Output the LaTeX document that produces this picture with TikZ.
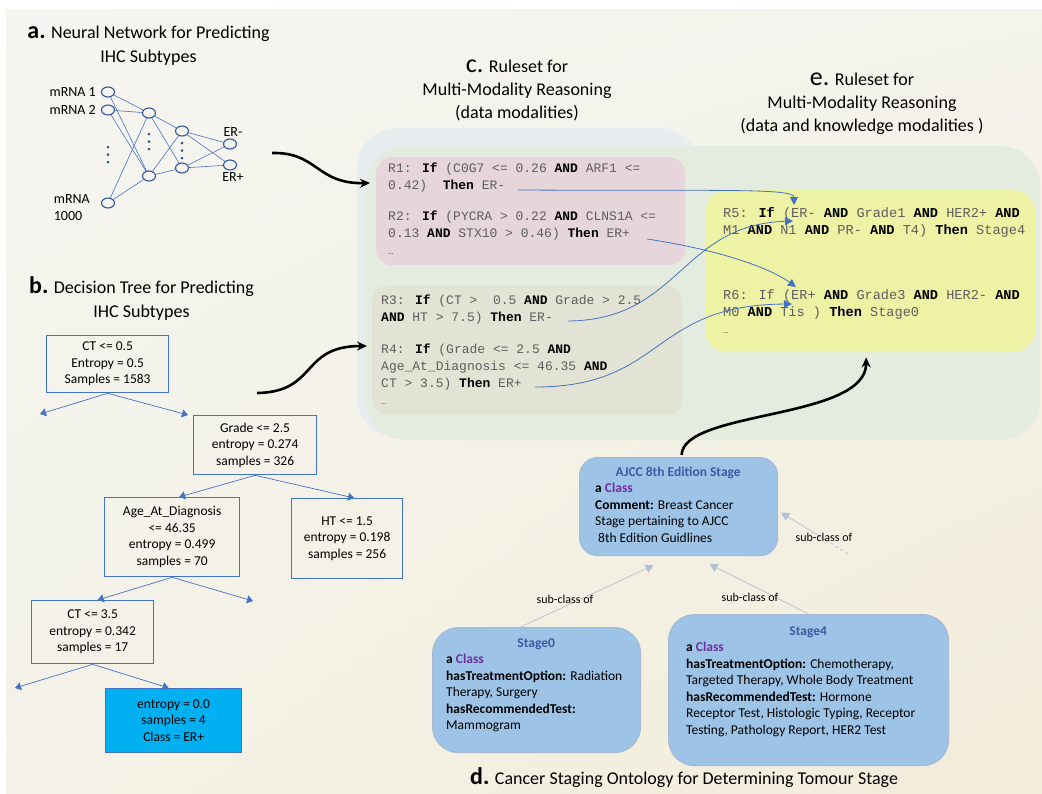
\documentclass[tikz,border=0pt]{standalone}
\usepackage{fontspec}
\setmainfont{Carlito}
\newfontfamily\rulefont{Liberation Mono}
\usetikzlibrary{arrows.meta,shapes.geometric,positioning,shadings}

\definecolor{bgA}{HTML}{F5F5F1}
\definecolor{bgB}{HTML}{F2ECD9}
\definecolor{bgC}{HTML}{F4F3EC}
\definecolor{bgD}{HTML}{F4F2E7}
\definecolor{panelc}{HTML}{E7ECEF}
\definecolor{panele}{HTML}{E4ECE0}
\definecolor{rulepink}{HTML}{E6D6DC}
\definecolor{ruleolive}{HTML}{E2E3D4}
\definecolor{ruleyellow}{HTML}{EDF2A4}
\definecolor{rulegray}{HTML}{5E5E5E}
\definecolor{linkblue}{HTML}{4472C4}
\definecolor{nodeblue}{HTML}{2F5597}
\definecolor{leafblue}{HTML}{00B0F0}
\definecolor{ontofill}{HTML}{9DC3E6}
\definecolor{ontoedge}{HTML}{A8BAD3}
\definecolor{ontotitle}{HTML}{3A5BA3}
\definecolor{classpurple}{HTML}{7030A0}
\definecolor{subclass}{HTML}{B3BFD2}

\newcommand{\kw}[1]{\textbf{\color{black}#1}}
\newcommand{\aclass}{\textbf{a} \textbf{\color{classpurple}Class}}
\newcommand{\more}{{\fontsize{9}{9}\selectfont …}}

\begin{document}
\begin{tikzpicture}[x=1pt,y=-1pt,
  neuron/.style={ellipse,draw=nodeblue,line width=1.1pt,minimum width=13pt,minimum height=10pt,inner sep=0pt},
  nnlabel/.style={font=\fontsize{14}{17}\selectfont,inner sep=0pt},
  synapse/.style={linkblue,line width=0.6pt},
  heading/.style={align=center,inner sep=0pt,font=\fontsize{18}{24}\selectfont},
  treebox/.style={draw=linkblue,line width=1.3pt,align=center,inner sep=0pt,anchor=north west,font=\fontsize{13.5}{16.5}\selectfont},
  treelink/.style={linkblue,line width=0.7pt,-{Triangle[width=8pt,length=6pt]}},
  rulebox/.style={rounded corners=16pt,inner sep=0pt,anchor=north west},
  ruletext/.style={align=left,inner sep=0pt,anchor=north west,text=rulegray,font=\rulefont\fontsize{13}{17}\selectfont},
  rulelink/.style={linkblue,line width=0.8pt,-{Triangle[width=8pt,length=8pt]}},
  flow/.style={black,line width=2.6pt,-{Stealth[length=10pt,width=9pt]}},
  ontobox/.style={fill=ontofill,draw=ontoedge,line width=1.2pt,inner sep=0pt,anchor=north west},
  ontotext/.style={align=left,inner sep=0pt,anchor=north west,font=\fontsize{13.5}{16.5}\selectfont},
  subclassof/.style={subclass,line width=0.7pt,-{Triangle[width=9pt,length=8pt]}},
  edgelabel/.style={font=\fontsize{12}{14}\selectfont,inner sep=0pt}]
\useasboundingbox (0,0) rectangle (1042,793);
\fill[white] (0,0) rectangle (1042,793);
\shade[upper left=bgA,upper right=bgC,lower left=bgD,lower right=bgB] (6,9) rectangle (1042,793);
\fill[panelc,rounded corners=40pt] (357,128) rectangle (700,437);
\fill[panele,rounded corners=40pt] (366,146) rectangle (1040,440);

% headings
\node[heading,anchor=north] (headA) at (148.5,21.2) {\strut{\fontsize{24}{24}\selectfont\bfseries a.} Neural Network for Predicting\\IHC Subtypes};
\node[heading,anchor=north] (headB) at (141.5,276.7) {\strut{\fontsize{24}{24}\selectfont\bfseries b.} Decision Tree for Predicting\\IHC Subtypes};
\node[heading,anchor=north,font=\fontsize{18}{23}\selectfont] (headC) at (517,55.9) {\strut{\fontsize{26}{26}\selectfont c.} Ruleset for\\Multi-Modality Reasoning\\(data modalities)};
\node[heading,anchor=north,font=\fontsize{18}{23}\selectfont] (headE) at (862,68.9) {\strut{\fontsize{26}{26}\selectfont e.} Ruleset for\\Multi-Modality Reasoning\\(data and knowledge modalities )};
\node[heading,anchor=base west] (headD) at (470,784) {{\fontsize{24}{24}\selectfont\bfseries d.} Cancer Staging Ontology for Determining Tomour Stage};

% neural network
\node[neuron] (in1) at (108,92) {};
\node[neuron] (in2) at (108,110) {};
\node[neuron] (in3) at (108,203) {};
\node[neuron] (h1a) at (149,113) {};
\node[neuron] (h1b) at (149,176) {};
\node[neuron] (h2a) at (182,131) {};
\node[neuron] (h2b) at (182,168) {};
\node[neuron] (out1) at (230,144) {};
\node[neuron] (out2) at (230,165) {};
\foreach \a in {in1,in2,in3}
  \foreach \b in {h1a,h1b} \draw[synapse] (\a) -- (\b);
\foreach \a in {h1a,h1b}
  \foreach \b in {h2a,h2b} \draw[synapse] (\a) -- (\b);
\foreach \a in {h2a,h2b}
  \foreach \b in {out1,out2} \draw[synapse] (\a) -- (\b);
\foreach \x/\y in {108/147,108/154.5,108/162,149/134,149/141.5,149/149,182/143,182/150.5,182/158}
  \fill[nodeblue] (\x,\y) circle (1.5pt);
\node[nnlabel,left=5pt of in1] (lin1) {mRNA 1};
\node[nnlabel,left=5pt of in2] (lin2) {mRNA 2};
\node[nnlabel,align=left,left=11pt of in3,yshift=-4.5pt] (lin3) {mRNA\\1000};
\node[nnlabel,above=2pt of out1,xshift=3pt] (lout1) {ER-};
\node[nnlabel,below=2pt of out2,xshift=3pt] (lout2) {ER+};

% decision tree
\node[treebox,minimum width=122pt,minimum height=57pt] (root) at (46,335) {CT <= 0.5\\Entropy = 0.5\\Samples = 1583};
\node[treebox,minimum width=123pt,minimum height=59pt] (grade) at (193,415) {Grade <= 2.5\\entropy = 0.274\\samples = 326};
\node[treebox,minimum width=135pt,minimum height=79pt] (age) at (104,497) {Age\_At\_Diagnosis\\<= 46.35\\entropy = 0.499\\samples = 70};
\node[treebox,minimum width=111pt,minimum height=80pt] (ht) at (291,498) {HT <= 1.5\\entropy = 0.198\\samples = 256};
\node[treebox,minimum width=122pt,minimum height=63pt] (ct) at (31,600) {CT <= 3.5\\entropy = 0.342\\samples = 17};
\node[treebox,fill=leafblue,minimum width=136pt,minimum height=64pt] (leaf) at (105,688) {entropy = 0.0\\samples = 4\\Class = ER+};
\coordinate (rootL) at (40,414);
\coordinate (ageR) at (253,601);
\coordinate (ctL) at (15,688);
\draw[treelink] (root.south) -- (rootL);
\draw[treelink] (root.south) -- ([xshift=-5pt]grade.north west);
\draw[treelink] (grade.south) -- ([xshift=7pt]age.north);
\draw[treelink] (grade.south) -- ([xshift=7pt]ht.north);
\draw[treelink] (age.south) -- ([xshift=5pt]ct.north);
\draw[treelink] (age.south) -- (ageR);
\draw[treelink] (ct.south) -- (ctL);
\draw[treelink] (ct.south) -- ([xshift=-5pt]leaf.north);

% rulesets
\node[rulebox,fill=rulepink,minimum width=309pt,minimum height=108pt] (r12) at (376,157) {};
\node[rulebox,fill=ruleolive,minimum width=310pt,minimum height=130pt] (r34) at (372,285) {};
\node[rulebox,fill=ruleyellow,minimum width=330pt,minimum height=162pt,rounded corners=22pt] (r56) at (705,190) {};
\node[ruletext] (r1) at ([shift={(12,3.8)}]r12.north west) {\strut R1: \kw{If} (C0G7 <= 0.26 \kw{AND} ARF1 <=\\0.42)~~\kw{Then} ER-};
\node[ruletext] (r2) at ([shift={(12,51.8)}]r12.north west) {\strut R2: \kw{If} (PYCRA > 0.22 \kw{AND} CLNS1A <=\\0.13 \kw{AND} STX10 > 0.46) \kw{Then} ER+\\\more};
\node[ruletext] (r3) at ([shift={(9,7.1)}]r34.north west) {\strut R3: \kw{If} (CT >~~0.5 \kw{AND} Grade > 2.5\\\kw{AND} HT > 7.5) \kw{Then} ER-};
\node[ruletext] (r4) at ([shift={(9,56.1)}]r34.north west) {\strut R4: \kw{If} (Grade <= 2.5 \kw{AND}\\Age\_At\_Diagnosis <= 46.35 \kw{AND}\\CT > 3.5) \kw{Then} ER+\\\more};
\node[ruletext,font=\rulefont\fontsize{13.6}{17}\selectfont] (r5) at ([shift={(18,15.1)}]r56.north west) {\strut R5: \kw{If} (ER- \kw{AND} Grade1 \kw{AND} HER2+ \kw{AND}\\M1 \kw{AND} N1 \kw{AND} PR- \kw{AND} T4) \kw{Then} Stage4};
\node[ruletext,font=\rulefont\fontsize{13.6}{17}\selectfont] (r6) at ([shift={(18,97.1)}]r56.north west) {\strut R6: If (ER+ \kw{AND} Grade3 \kw{AND} HER2- \kw{AND}\\M0 \kw{AND} Tis ) \kw{Then} Stage0\\\more};
\coordinate (r1end) at (518,190);
\coordinate (r2end) at (647,239);
\coordinate (r3end) at (568,321);
\coordinate (r4end) at (535,387);
\coordinate (r5inA) at (794,205);
\coordinate (r5inB) at (793,221);
\coordinate (r6inA) at (796,287);
\coordinate (r6inB) at (792,304);
\draw[rulelink] (r1end) .. controls (720,191) and (794,188) .. (r5inA);
\draw[rulelink] (r2end) .. controls (720,250) and (770,268) .. (r6inA);
\draw[rulelink] (r3end) .. controls (680,320) and (680,225) .. (r5inB);
\draw[rulelink] (r4end) .. controls (665,387) and (650,305) .. (r6inB);

% ontology
\node[ontobox,rounded corners=18pt,minimum width=198pt,minimum height=98pt] (ajcc) at (579,457) {};
\node[ontobox,rounded corners=26pt,minimum width=208pt,minimum height=125pt] (stage0) at (432,627) {};
\node[ontobox,rounded corners=26pt,minimum width=280pt,minimum height=151pt] (stage4) at (668,614) {};
\node[ontotext] (ajcctext) at ([shift={(16,7.45)}]ajcc.north west) {\strut\makebox[166pt]{\bfseries\color{ontotitle}AJCC 8th Edition Stage}\\\aclass\\\textbf{Comment:} Breast Cancer\\Stage pertaining to AJCC\\\hspace{3pt}8th Edition Guidlines};
\node[ontotext] (stage0text) at ([shift={(14,8.45)}]stage0.north west) {\strut\makebox[180pt]{\bfseries\color{ontotitle}Stage0}\\\aclass\\\textbf{hasTreatmentOption:} Radiation\\Therapy, Surgery\\\textbf{hasRecommendedTest:}\\Mammogram};
\node[ontotext] (stage4text) at ([shift={(18,9.45)}]stage4.north west) {\strut\makebox[244pt]{\bfseries\color{ontotitle}Stage4}\\\aclass\\\textbf{hasTreatmentOption:} Chemotherapy,\\Targeted Therapy, Whole Body Treatment\\\textbf{hasRecommendedTest:} Hormone\\Receptor Test, Histologic Typing, Receptor\\Testing, Pathology Report, HER2 Test};
\coordinate (subtail) at (848,554);
\coordinate (subbend) at (828,541.5);
\draw[subclassof] ([xshift=-16pt]stage0.north) -- ([shift={(-25,9)}]ajcc.south);
\draw[subclassof] (stage4.north) -- ([shift={(31,8)}]ajcc.south);
\draw[subclass,line width=0.7pt,dashed] (subtail) -- (subbend);
\draw[subclassof] (subbend) -- ([shift={(3,6)}]ajcc.east);
\node[edgelabel] (sub0) at (565,599) {sub-class of};
\node[edgelabel] (sub4) at (750,597) {sub-class of};
\node[edgelabel] (subR) at (824,537) {sub-class of};

% flows between panels
\coordinate (nnout) at (272,153);
\coordinate (treeout) at (257,393);
\draw[flow] (nnout) .. controls (318,152) and (316,184) .. ([shift={(-6,26)}]r12.north west);
\draw[flow] (treeout) .. controls (318,392) and (300,346) .. ([shift={(-5,61)}]r34.north west);
\draw[flow] ([shift={(3,-2)}]ajcc.north) .. controls (683,410) and (866,420) .. ([shift={(-4,5)}]r56.south);
\end{tikzpicture}
\end{document}
